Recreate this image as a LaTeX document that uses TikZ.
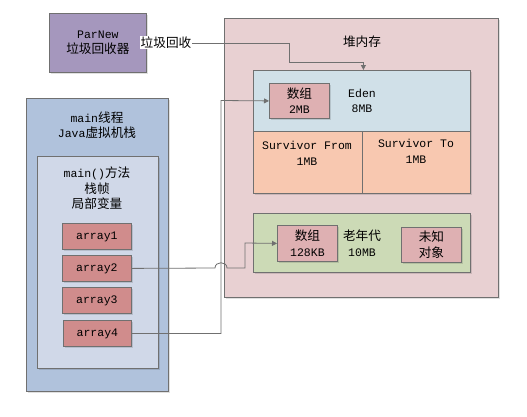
\documentclass[tikz,border=0pt]{standalone}
\usepackage{fontspec}
\setmainfont{Liberation Mono}
\newfontfamily\cjk[Scale=1.1]{Noto Sans CJK SC}
\usetikzlibrary{arrows.meta,shadows}
\definecolor{bord}{HTML}{707070}
\definecolor{cpar}{HTML}{A597BD}
\definecolor{cheap}{HTML}{E8D0D2}
\definecolor{ceden}{HTML}{D0E0E8}
\definecolor{csurv}{HTML}{F8C8B0}
\definecolor{cold}{HTML}{CCDAB6}
\definecolor{carr}{HTML}{DEB0B2}
\definecolor{cjvm}{HTML}{B0C2DC}
\definecolor{cframe}{HTML}{D0D8E8}
\definecolor{cvar}{HTML}{D08C8C}
\begin{document}
\begin{tikzpicture}[x=1pt,y=-1pt,
  box/.style={draw=bord,line width=0.8pt,inner sep=0pt,anchor=north west,
    general shadow={shadow xshift=1.5pt,shadow yshift=-1.5pt,fill=black,opacity=0.12}},
  txt/.style={align=center,font=\fontsize{11.5}{15.5}\selectfont,inner sep=0pt},
  conn/.style={draw=bord,line width=0.8pt},
  arr/.style={conn,-{Triangle[length=5pt,width=5pt]}}]
\fill[white] (0,0) rectangle (527,416);
\useasboundingbox (0,0) rectangle (527,416);
% boxes
\node[box,fill=cpar,minimum width=97pt,minimum height=59pt] (parnew) at (49,13) {};
\node[box,fill=cheap,minimum width=274pt,minimum height=279pt] (heap) at (224,18) {};
\node[box,fill=ceden,minimum width=217pt,minimum height=61pt] (eden) at (253,70) {};
\node[box,fill=csurv,minimum width=109pt,minimum height=62pt] (sfrom) at (253,131) {};
\node[box,fill=csurv,minimum width=108pt,minimum height=62pt] (sto) at (362,131) {};
\node[box,fill=carr,minimum width=60pt,minimum height=35pt] (arreden) at (269,83) {};
\node[box,fill=cold,minimum width=217pt,minimum height=59pt] (old) at (253,213) {};
\node[box,fill=carr,minimum width=60pt,minimum height=36pt] (arrold) at (277,225) {};
\node[box,fill=carr,minimum width=60pt,minimum height=35pt] (unknown) at (401,227) {};
\node[box,fill=cjvm,minimum width=142pt,minimum height=293pt] (jvm) at (26,98) {};
\node[box,fill=cframe,minimum width=121pt,minimum height=212pt] (frame) at (37,156) {};
\node[box,fill=cvar,minimum width=69pt,minimum height=26pt] (a1) at (62,223) {};
\node[box,fill=cvar,minimum width=69pt,minimum height=26pt] (a2) at (62,255) {};
\node[box,fill=cvar,minimum width=69pt,minimum height=26pt] (a3) at (62,287) {};
\node[box,fill=cvar,minimum width=68pt,minimum height=26pt] (a4) at (63,320) {};
% texts
\node[txt] (tpar) at (parnew.center) {ParNew\\{\cjk 垃圾回收器}};
\node[txt] (theap) at (362,42) {\cjk 堆内存};
\node[txt] (teden) at (362,101) {Eden\\8MB};
\node[txt] (tsfrom) at (307,153.5) {Survivor From\\1MB};
\node[txt] (tsto) at (416,151.5) {Survivor To\\1MB};
\node[txt] (tarreden) at (arreden.center) {{\cjk 数组}\\2MB};
\node[txt] (told) at (362,243) {{\cjk 老年代}\\10MB};
\node[txt] (tarrold) at (arrold.center) {{\cjk 数组}\\128KB};
\node[txt] (tunk) at (unknown.center) {\cjk 未知\\\cjk 对象};
\node[txt] (tjvm) at (97,125) {main{\cjk 线程}\\Java{\cjk 虚拟机栈}};
\node[txt] (tframe) at (97,188.5) {main(){\cjk 方法}\\{\cjk 栈帧}\\{\cjk 局部变量}};
\node[txt] (ta1) at (a1.center) {array1};
\node[txt] (ta2) at (a2.center) {array2};
\node[txt] (ta3) at (a3.center) {array3};
\node[txt] (ta4) at (a4.center) {array4};
% connectors
\coordinate (g1) at (289,62);
\draw[arr] (parnew.east) -| (g1) -| ([xshift=1.5pt]eden.north);
\node[txt,fill=white,inner sep=1pt] (lgc) at (166,42.5) {\cjk 垃圾回收};
\coordinate (c2) at (221,100.5);
\draw[arr] (a4.east) -| (c2) -- (arreden.west);
\coordinate (j1) at (215,268);
\coordinate (j2) at (227,268);
\coordinate (c3) at (245,268);
\coordinate (c4) at (245,243);
\draw[arr] (a2.east) -- (j1) .. controls (215,261) and (227,261) .. (j2) -- (c3) -- (c4) -- (arrold.west);
\end{tikzpicture}
\end{document}
